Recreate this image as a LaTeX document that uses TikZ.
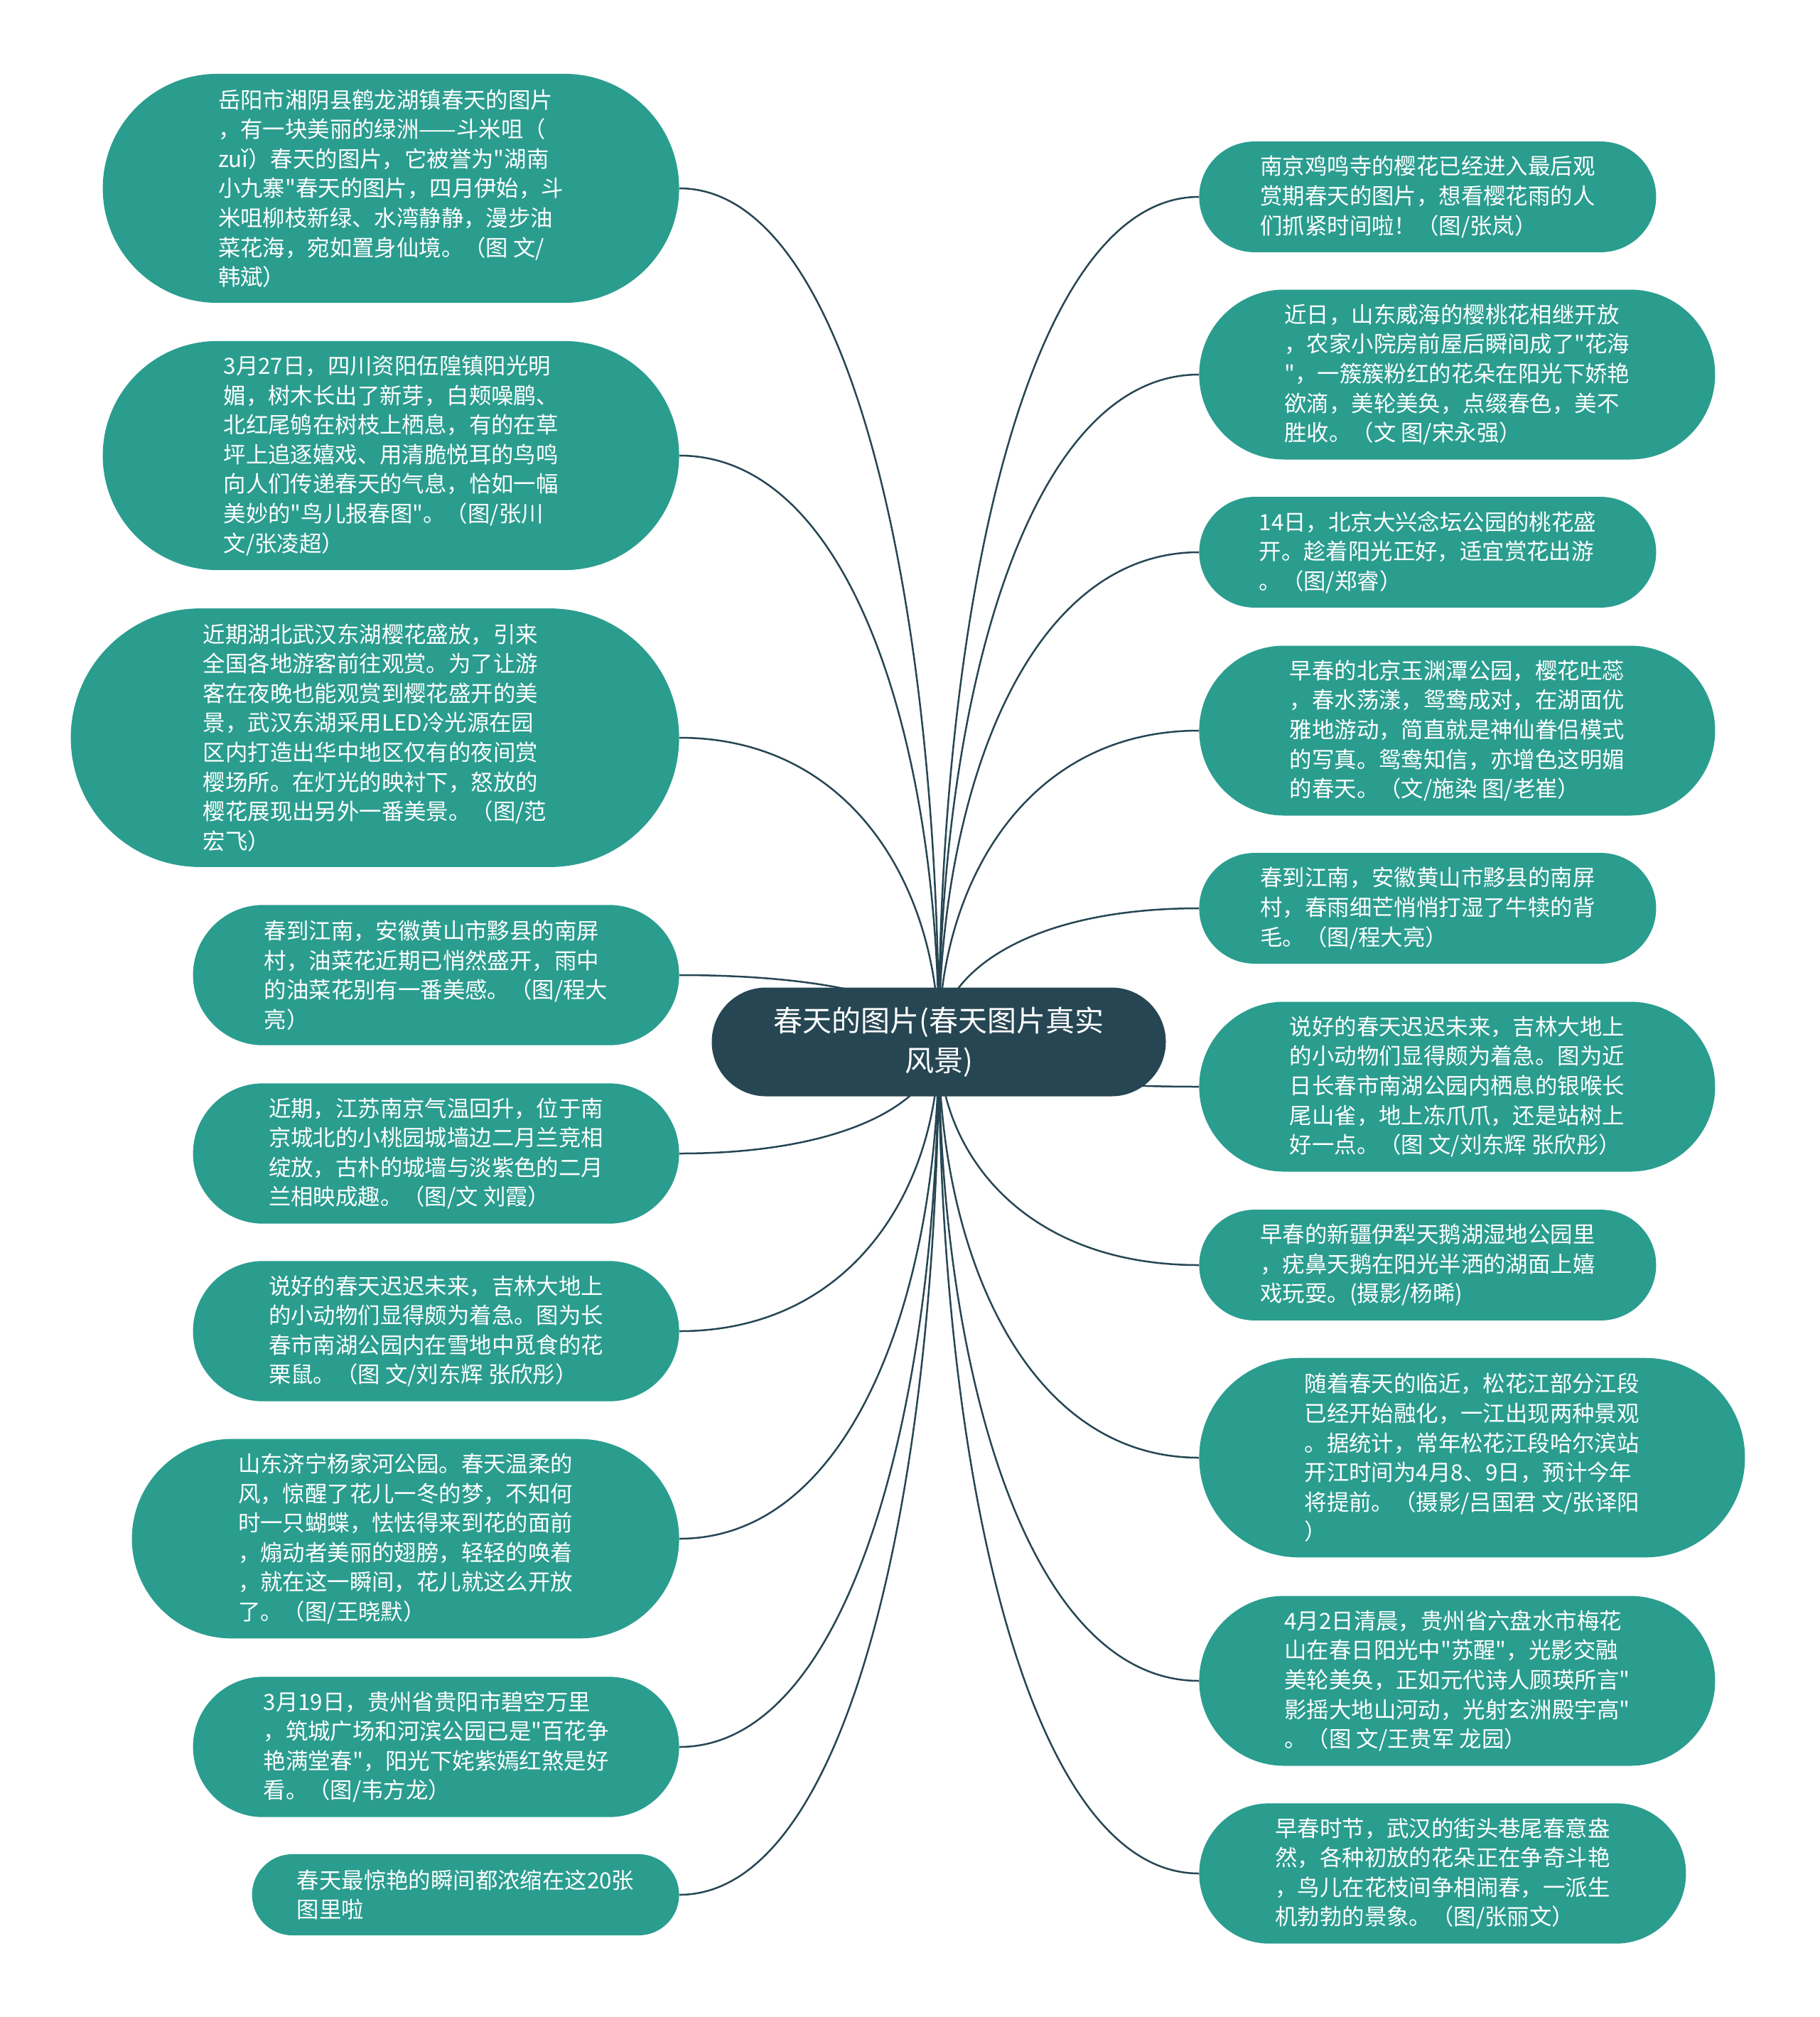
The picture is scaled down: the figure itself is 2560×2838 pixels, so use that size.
\documentclass[tikz,border=0pt]{standalone}
\usepackage{fontspec}
\setmainfont{Noto Sans CJK SC}[Ligatures=TeXOff]
\usepackage{xcolor}
\usepackage{tikz}
\usetikzlibrary{shapes.misc,calc,backgrounds}
\definecolor{rootclr}{HTML}{264653}
\definecolor{leafclr}{HTML}{2A9D8F}
\tikzset{
  root/.style={rounded rectangle, fill=rootclr, text=white, align=center,
    font=\fontsize{20.5pt}{28pt}\selectfont, inner sep=0pt},
  leaf/.style={rounded rectangle, fill=leafclr, text=white, align=left,
    font=\fontsize{15.7pt}{20.8pt}\selectfont, inner sep=0pt},
  lft/.style={leaf, anchor=east},
  rgt/.style={leaf, anchor=west},
  wpx/.style={minimum width=#1*0.5pt},
  rows/.style={minimum height=#1*20.8pt+15.5pt},
  branch/.style={draw=rootclr, line width=1.25pt,
    to path={.. controls ($(\tikztostart)!0.5!(\tikztostart |- \tikztotarget)$)
      and ($(\tikztotarget)!0.67!(\tikztostart |- \tikztotarget)$) .. (\tikztotarget)}},
}
\begin{document}
\begin{tikzpicture}[x=0.5pt, y=-0.5pt]
  \useasboundingbox (0,0) rectangle (2560,2838);
  \node[root, minimum width=319.5pt, minimum height=76.5pt] (root) at (1321,1466)
    {春天的图片(春天图片真实\\风景)};
  % left side
  \node[lft, wpx=811, rows=7] (l1) at (956,265) {岳阳市湘阴县鹤龙湖镇春天的图片\\
    ，有一块美丽的绿洲——斗米咀（\\
    zuǐ）春天的图片，它被誉为"湖南\\
    小九寨"春天的图片，四月伊始，斗\\
    米咀柳枝新绿、水湾静静，漫步油\\
    菜花海，宛如置身仙境。（图 文/\\
    韩斌）};
  \node[lft, wpx=811, rows=7] (l2) at (956,641) {3月27日，四川资阳伍隍镇阳光明\\
    媚，树木长出了新芽，白颊噪鹛、\\
    北红尾鸲在树枝上栖息，有的在草\\
    坪上追逐嬉戏、用清脆悦耳的鸟鸣\\
    向人们传递春天的气息，恰如一幅\\
    美妙的"鸟儿报春图"。（图/张川\\
    文/张凌超）};
  \node[lft, wpx=856, rows=8] (l3) at (956,1038) {近期湖北武汉东湖樱花盛放，引来\\
    全国各地游客前往观赏。为了让游\\
    客在夜晚也能观赏到樱花盛开的美\\
    景，武汉东湖采用LED冷光源在园\\
    区内打造出华中地区仅有的夜间赏\\
    樱场所。在灯光的映衬下，怒放的\\
    樱花展现出另外一番美景。（图/范\\
    宏飞）};
  \node[lft, wpx=684, rows=4] (l4) at (956,1372) {春到江南，安徽黄山市黟县的南屏\\
    村，油菜花近期已悄然盛开，雨中\\
    的油菜花别有一番美感。（图/程大\\
    亮）};
  \node[lft, wpx=684, rows=4] (l5) at (956,1623) {近期，江苏南京气温回升，位于南\\
    京城北的小桃园城墙边二月兰竞相\\
    绽放，古朴的城墙与淡紫色的二月\\
    兰相映成趣。（图/文 刘霞）};
  \node[lft, wpx=684, rows=4] (l6) at (956,1873) {说好的春天迟迟未来，吉林大地上\\
    的小动物们显得颇为着急。图为长\\
    春市南湖公园内在雪地中觅食的花\\
    栗鼠。（图 文/刘东辉 张欣彤）};
  \node[lft, wpx=770, rows=6] (l7) at (956,2165) {山东济宁杨家河公园。春天温柔的\\
    风，惊醒了花儿一冬的梦，不知何\\
    时一只蝴蝶，怯怯得来到花的面前\\
    ，煽动者美丽的翅膀，轻轻的唤着\\
    ，就在这一瞬间，花儿就这么开放\\
    了。（图/王晓默）};
  \node[lft, wpx=684, rows=4] (l8) at (956,2458) {3月19日，贵州省贵阳市碧空万里\\
    ，筑城广场和河滨公园已是"百花争\\
    艳满堂春"，阳光下姹紫嫣红煞是好\\
    看。（图/韦方龙）};
  \node[lft, wpx=601, rows=2] (l9) at (956,2666) {春天最惊艳的瞬间都浓缩在这20张\\
    图里啦};
  % right side
  \node[rgt, wpx=643, rows=3] (r1) at (1687,277) {南京鸡鸣寺的樱花已经进入最后观\\
    赏期春天的图片，想看樱花雨的人\\
    们抓紧时间啦！（图/张岚）};
  \node[rgt, wpx=726, rows=5] (r2) at (1687,527) {近日，山东威海的樱桃花相继开放\\
    ，农家小院房前屋后瞬间成了"花海\\
    "，一簇簇粉红的花朵在阳光下娇艳\\
    欲滴，美轮美奂，点缀春色，美不\\
    胜收。（文 图/宋永强）};
  \node[rgt, wpx=643, rows=3] (r3) at (1687,777) {14日，北京大兴念坛公园的桃花盛\\
    开。趁着阳光正好，适宜赏花出游\\
    。（图/郑睿）};
  \node[rgt, wpx=726, rows=5] (r4) at (1687,1028) {早春的北京玉渊潭公园，樱花吐蕊\\
    ，春水荡漾，鸳鸯成对，在湖面优\\
    雅地游动，简直就是神仙眷侣模式\\
    的写真。鸳鸯知信，亦增色这明媚\\
    的春天。（文/施染 图/老崔）};
  \node[rgt, wpx=643, rows=3] (r5) at (1687,1278) {春到江南，安徽黄山市黟县的南屏\\
    村，春雨细芒悄悄打湿了牛犊的背\\
    毛。（图/程大亮）};
  \node[rgt, wpx=726, rows=5] (r6) at (1687,1529) {说好的春天迟迟未来，吉林大地上\\
    的小动物们显得颇为着急。图为近\\
    日长春市南湖公园内栖息的银喉长\\
    尾山雀，地上冻爪爪，还是站树上\\
    好一点。（图 文/刘东辉 张欣彤）};
  \node[rgt, wpx=643, rows=3] (r7) at (1687,1780) {早春的新疆伊犁天鹅湖湿地公园里\\
    ，疣鼻天鹅在阳光半洒的湖面上嬉\\
    戏玩耍。(摄影/杨晞)};
  \node[rgt, wpx=768, rows=6] (r8) at (1687,2051) {随着春天的临近，松花江部分江段\\
    已经开始融化，一江出现两种景观\\
    。据统计，常年松花江段哈尔滨站\\
    开江时间为4月8、9日，预计今年\\
    将提前。（摄影/吕国君 文/张译阳\\
    ）};
  \node[rgt, wpx=726, rows=5] (r9) at (1687,2365) {4月2日清晨，贵州省六盘水市梅花\\
    山在春日阳光中"苏醒"，光影交融\\
    美轮美奂，正如元代诗人顾瑛所言"\\
    影摇大地山河动，光射玄洲殿宇高"\\
    。（图 文/王贵军 龙园）};
  \node[rgt, wpx=685, rows=4] (r10) at (1687,2636) {早春时节，武汉的街头巷尾春意盎\\
    然，各种初放的花朵正在争奇斗艳\\
    ，鸟儿在花枝间争相闹春，一派生\\
    机勃勃的景象。（图/张丽文）};
  % connectors
  \begin{scope}[on background layer]
    \draw[branch] (root.center) to (l1.east);
    \draw[branch] (root.center) to (l2.east);
    \draw[branch] (root.center) to (l3.east);
    \draw[branch] (root.center) to (l4.east);
    \draw[branch] (root.center) to (l5.east);
    \draw[branch] (root.center) to (l6.east);
    \draw[branch] (root.center) to (l7.east);
    \draw[branch] (root.center) to (l8.east);
    \draw[branch] (root.center) to (l9.east);
    \draw[branch] (root.center) to (r1.west);
    \draw[branch] (root.center) to (r2.west);
    \draw[branch] (root.center) to (r3.west);
    \draw[branch] (root.center) to (r4.west);
    \draw[branch] (root.center) to (r5.west);
    \draw[branch] (root.center) to (r6.west);
    \draw[branch] (root.center) to (r7.west);
    \draw[branch] (root.center) to (r8.west);
    \draw[branch] (root.center) to (r9.west);
    \draw[branch] (root.center) to (r10.west);
  \end{scope}
\end{tikzpicture}
\end{document}
